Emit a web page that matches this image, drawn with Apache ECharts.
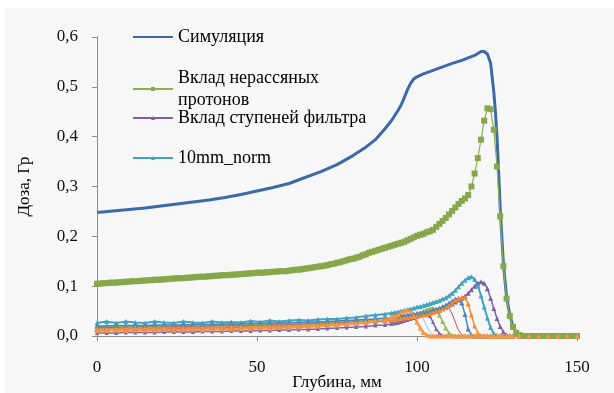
<!DOCTYPE html>
<html><head><meta charset="utf-8">
<script src="https://cdn.jsdelivr.net/npm/echarts@6/dist/echarts.min.js"></script>
<style>
html,body{margin:0;padding:0;background:#fff;}
#bg{position:absolute;left:5px;top:8px;width:609px;height:385px;background:#f7f7f7;}
#c{position:absolute;left:0;top:0;width:614px;height:393px;}
</style></head><body>
<div id="bg"></div><div id="c"></div>
<script>
// Simulation curve [depth mm, dose Gy]
const simX = [0,5,10,15,20,25,30,35,40,45,50,55,60,65,70,75,80,84,87,90,92,94,95,96,97,98,99,100,102,105,108,111,114,116,118,119,120,121,122,123,124,124.5,125,125.5,126,127,128,129,130,131,132,133,150];
const simY = [0.248,0.251,0.254,0.257,0.261,0.265,0.269,0.273,0.278,0.284,0.291,0.298,0.306,0.318,0.330,0.344,0.362,0.379,0.394,0.416,0.432,0.452,0.463,0.478,0.494,0.507,0.516,0.520,0.526,0.533,0.540,0.547,0.553,0.558,0.563,0.567,0.571,0.571,0.566,0.548,0.490,0.450,0.400,0.330,0.255,0.145,0.078,0.042,0.019,0.007,0.002,0,0];

// Unscattered protons, depth 0..150 mm step 1
const unscattered = [
0.105,0.105,0.106,0.106,0.107,0.107,0.107,0.108,0.108,0.109,0.109,
0.110,0.110,0.110,0.111,0.111,0.112,0.112,0.113,0.113,0.113,
0.114,0.114,0.115,0.115,0.116,0.116,0.116,0.117,0.117,0.118,
0.118,0.119,0.119,0.119,0.120,0.120,0.121,0.121,0.122,0.122,
0.122,0.123,0.123,0.124,0.124,0.125,0.125,0.126,0.126,0.127,
0.127,0.127,0.128,0.128,0.129,0.129,0.130,0.130,0.130,0.131,
0.132,0.133,0.133,0.134,0.135,0.136,0.137,0.138,0.139,0.140,
0.141,0.142,0.144,0.145,0.147,0.148,0.150,0.152,0.154,0.155,
0.157,0.159,0.162,0.164,0.167,0.169,0.171,0.173,0.175,0.177,
0.179,0.181,0.183,0.185,0.187,0.189,0.192,0.195,0.198,0.201,
0.203,0.205,0.208,0.210,0.213,0.219,0.225,0.231,0.237,0.244,
0.251,0.258,0.265,0.271,0.276,0.283,0.300,0.326,0.357,0.394,
0.432,0.457,0.455,0.414,0.340,0.240,0.140,0.075,0.040,0.018,
0.006,0.002,0,0,0,0,0,0,0,0,
0,0,0,0,0,0,0,0,0,0];

// Shared depth grid for filter-step curves
const stepX = [0,3,6,9,12,15,18,21,24,27,30,33,36,39,42,45,48,51,54,57,60,63,66,69,72,75,78,81,84,87,90,
92,93,94,95,96,97,98,99,100,101,102,103,104,105,106,107,108,109,110,111,112,113,114,115,116,117,118,119,120,121,122,123,124,125,126,127,128,129,130,
132,135,138,141,144,147,150];

const stepPurple = [0.013,0.013,0.013,0.014,0.014,0.014,0.014,0.015,0.015,0.015,0.015,0.016,0.016,0.016,0.017,0.017,0.017,0.018,0.018,0.019,0.019,0.020,0.020,0.021,0.022,0.023,0.024,0.025,0.026,0.028,0.030,
0.031,0.032,0.033,0.034,0.035,0.036,0.037,0.039,0.040,0.041,0.043,0.044,0.046,0.048,0.050,0.052,0.055,0.058,0.061,0.064,0.068,0.072,0.076,0.080,0.086,0.093,0.100,0.106,0.109,0.106,0.095,0.076,0.055,0.035,0.019,0.008,0.002,0,0,
0,0,0,0,0,0,0];
const norm10 = [0.026,0.029,0.026,0.029,0.027,0.026,0.029,0.027,0.026,0.029,0.027,0.026,0.029,0.027,0.028,0.027,0.030,0.028,0.031,0.029,0.031,0.032,0.031,0.033,0.034,0.034,0.036,0.037,0.040,0.042,0.044,
0.046,0.047,0.048,0.050,0.051,0.053,0.054,0.056,0.058,0.059,0.061,0.063,0.065,0.067,0.069,0.071,0.074,0.077,0.081,0.086,0.092,0.099,0.106,0.112,0.117,0.119,0.114,0.101,0.081,0.058,0.036,0.017,0.005,0.001,0,0,0,0,0,
0,0,0,0,0,0,0];
const stepCyan = [0.020,0.020,0.020,0.021,0.021,0.021,0.021,0.022,0.022,0.022,0.022,0.023,0.023,0.023,0.024,0.024,0.024,0.025,0.025,0.026,0.026,0.027,0.027,0.028,0.029,0.029,0.030,0.031,0.032,0.033,0.034,
0.035,0.036,0.037,0.038,0.039,0.040,0.042,0.044,0.045,0.043,0.034,0.020,0.008,0.002,0,0,0,0,0,0,0,0,0,0,0,0,0,0,0,0,0,0,0,0,0,0,0,0,0,
0,0,0,0,0,0,0];
const stepPurpleThin = [0.006,0.006,0.006,0.007,0.007,0.007,0.007,0.008,0.008,0.008,0.008,0.009,0.009,0.009,0.010,0.010,0.010,0.011,0.011,0.012,0.012,0.013,0.013,0.014,0.015,0.016,0.017,0.018,0.019,0.021,0.022,
0.024,0.025,0.026,0.028,0.030,0.032,0.034,0.036,0.039,0.042,0.045,0.046,0.040,0.028,0.014,0.005,0.001,0,0,0,0,0,0,0,0,0,0,0,0,0,0,0,0,0,0,0,0,0,0,
0,0,0,0,0,0,0];
const stepGreen = [0.018,0.018,0.018,0.019,0.019,0.019,0.019,0.020,0.020,0.020,0.020,0.021,0.021,0.021,0.022,0.022,0.022,0.023,0.023,0.024,0.024,0.025,0.025,0.026,0.027,0.028,0.029,0.030,0.031,0.032,0.034,
0.035,0.036,0.037,0.038,0.039,0.040,0.041,0.043,0.045,0.047,0.050,0.053,0.055,0.056,0.052,0.042,0.029,0.016,0.006,0.001,0,0,0,0,0,0,0,0,0,0,0,0,0,0,0,0,0,0,0,
0,0,0,0,0,0,0];
const stepRed = [0.017,0.017,0.017,0.017,0.018,0.018,0.018,0.018,0.019,0.019,0.019,0.019,0.020,0.020,0.020,0.021,0.021,0.021,0.022,0.022,0.023,0.023,0.024,0.024,0.025,0.026,0.027,0.028,0.029,0.030,0.032,
0.033,0.034,0.035,0.036,0.037,0.038,0.039,0.040,0.041,0.042,0.043,0.045,0.047,0.049,0.052,0.055,0.057,0.059,0.056,0.044,0.027,0.011,0.003,0,0,0,0,0,0,0,0,0,0,0,0,0,0,0,0,
0,0,0,0,0,0,0];
const stepBlue = [0.020,0.020,0.021,0.021,0.021,0.021,0.022,0.022,0.022,0.022,0.023,0.023,0.023,0.024,0.024,0.024,0.025,0.025,0.026,0.026,0.027,0.027,0.028,0.028,0.029,0.030,0.031,0.032,0.033,0.034,0.036,
0.037,0.038,0.039,0.040,0.041,0.042,0.043,0.044,0.045,0.046,0.047,0.048,0.050,0.052,0.054,0.056,0.059,0.062,0.066,0.070,0.074,0.076,0.066,0.043,0.014,0.002,0,0,0,0,0,0,0,0,0,0,0,0,0,
0,0,0,0,0,0,0];
const stepOrange = [0.015,0.015,0.015,0.016,0.016,0.016,0.016,0.017,0.017,0.017,0.017,0.018,0.018,0.018,0.019,0.019,0.019,0.020,0.020,0.021,0.021,0.022,0.022,0.023,0.024,0.025,0.026,0.027,0.028,0.030,0.031,
0.032,0.033,0.034,0.035,0.036,0.037,0.038,0.039,0.040,0.041,0.042,0.043,0.045,0.047,0.049,0.051,0.054,0.057,0.061,0.066,0.071,0.075,0.078,0.077,0.064,0.042,0.020,0.006,0.001,0,0,0,0,0,0,0,0,0,0,
0,0,0,0,0,0,0];
const stepOrange2 = [0.011,0.011,0.012,0.011,0.012,0.012,0.012,0.013,0.012,0.013,0.013,0.013,0.014,0.014,0.014,0.015,0.015,0.016,0.016,0.017,0.017,0.018,0.019,0.020,0.021,0.022,0.024,0.025,0.027,0.030,0.033,
0.037,0.040,0.043,0.047,0.050,0.052,0.049,0.040,0.028,0.016,0.007,0.002,0,0,0,0,0,0,0,0,0,0,0,0,0,0,0,0,0,0,0,0,0,0,0,0,0,0,0,
0,0,0,0,0,0,0];

const xTicks = [0, 50, 100, 150];
const yTicks = [0, 0.1, 0.2, 0.3, 0.4, 0.5, 0.6];

const FONT = 'Liberation Serif';
const pairs = (xs, ys) => xs.map((x, i) => [x, ys[i]]);

function stepSeries(name, vals, color, marker, width, size) {
  return {
    name: name, type: 'line', data: pairs(stepX, vals),
    symbol: marker ? 'triangle' : 'none', symbolSize: size || 4, showSymbol: !!marker,
    lineStyle: {color: color, width: width}, itemStyle: {color: color},
    animation: false, silent: true
  };
}

const legendText = {fontFamily: FONT, fontSize: 18, color: '#000', lineHeight: 20};
function leg(name, top, extra) {
  return Object.assign({
    data: [name], left: 132, top: top, padding: 0, itemWidth: 40, itemHeight: 5,
    selectedMode: false, textStyle: Object.assign({}, legendText)
  }, extra || {});
}

const chart = echarts.init(document.getElementById('c'), null, {renderer: 'canvas'});
chart.setOption({
  backgroundColor: 'transparent',
  animation: false,
  grid: {left: 97, right: 37, top: 37, bottom: 57, containLabel: false, outerBoundsMode: 'none'},
  legend: [
    leg('Симуляция', 27, {itemStyle: {opacity: 0}}),
    leg('Вклад нерассяных протонов', 56, {
      formatter: () => 'Вклад нерассяных\nпротонов',
      textStyle: Object.assign({}, legendText, {lineHeight: 22, padding: [22, 0, 0, 0]})
    }),
    leg('Вклад ступеней фильтра', 108),
    leg('10mm_norm', 148)
  ],
  xAxis: {
    type: 'value', min: xTicks[0], max: xTicks[xTicks.length - 1], interval: xTicks[1] - xTicks[0],
    name: 'Глубина, мм', nameLocation: 'middle', nameGap: 38, nameMoveOverlap: false,
    nameTextStyle: {fontFamily: FONT, fontSize: 17, color: '#000'},
    axisLine: {lineStyle: {color: '#8c8c8c', width: 1}},
    axisTick: {show: true, length: 5, inside: false, lineStyle: {color: '#8c8c8c'}},
    axisLabel: {fontFamily: FONT, fontSize: 17, color: '#111', margin: 23},
    splitLine: {show: false}
  },
  yAxis: {
    type: 'value', min: yTicks[0], max: yTicks[yTicks.length - 1], interval: 0.1,
    name: 'Доза, Гр', nameLocation: 'middle', nameGap: 64, nameRotate: 90, nameMoveOverlap: false,
    nameTextStyle: {fontFamily: FONT, fontSize: 17, color: '#000'},
    axisLine: {show: true, lineStyle: {color: '#8c8c8c', width: 1}},
    axisTick: {show: true, length: 5, inside: false, lineStyle: {color: '#8c8c8c'}},
    axisLabel: {fontFamily: FONT, fontSize: 17, color: '#111', margin: 19,
      formatter: v => v.toFixed(1).replace('.', ',')},
    splitLine: {show: false}
  },
  series: [
    {name: 'Симуляция', type: 'line', data: pairs(simX, simY), symbol: 'none', showSymbol: false,
     lineStyle: {color: '#3b6aa6', width: 3}, itemStyle: {color: '#3b6aa6'}, silent: true},
    {name: 'Вклад нерассяных протонов', type: 'line', data: unscattered.map((v, i) => [i, v]),
     symbol: 'rect', symbolSize: 6, lineStyle: {color: '#8fb04e', width: 1.2}, itemStyle: {color: '#86a84a'}, silent: true},
    stepSeries('Вклад ступеней фильтра', stepPurple, '#7d5fa3', true, 1.5, 5),
    stepSeries('10mm_norm', norm10, '#3ea6c0', true, 2, 5),
    stepSeries('s_cyan', stepCyan, '#8fd0e2', false, 1),
    stepSeries('s_purple2', stepPurpleThin, '#8064a2', true, 1.5),
    stepSeries('s_green', stepGreen, '#9bbb59', true, 1.5, 5),
    stepSeries('s_red', stepRed, '#c0504d', false, 1),
    stepSeries('s_blue', stepBlue, '#4f81bd', true, 1.5, 5),
    stepSeries('s_orange', stepOrange, '#f08a35', true, 1.5, 5),
    stepSeries('s_orange2', stepOrange2, '#f79646', true, 2.5, 5)
  ]
});
</script>
</body></html>
